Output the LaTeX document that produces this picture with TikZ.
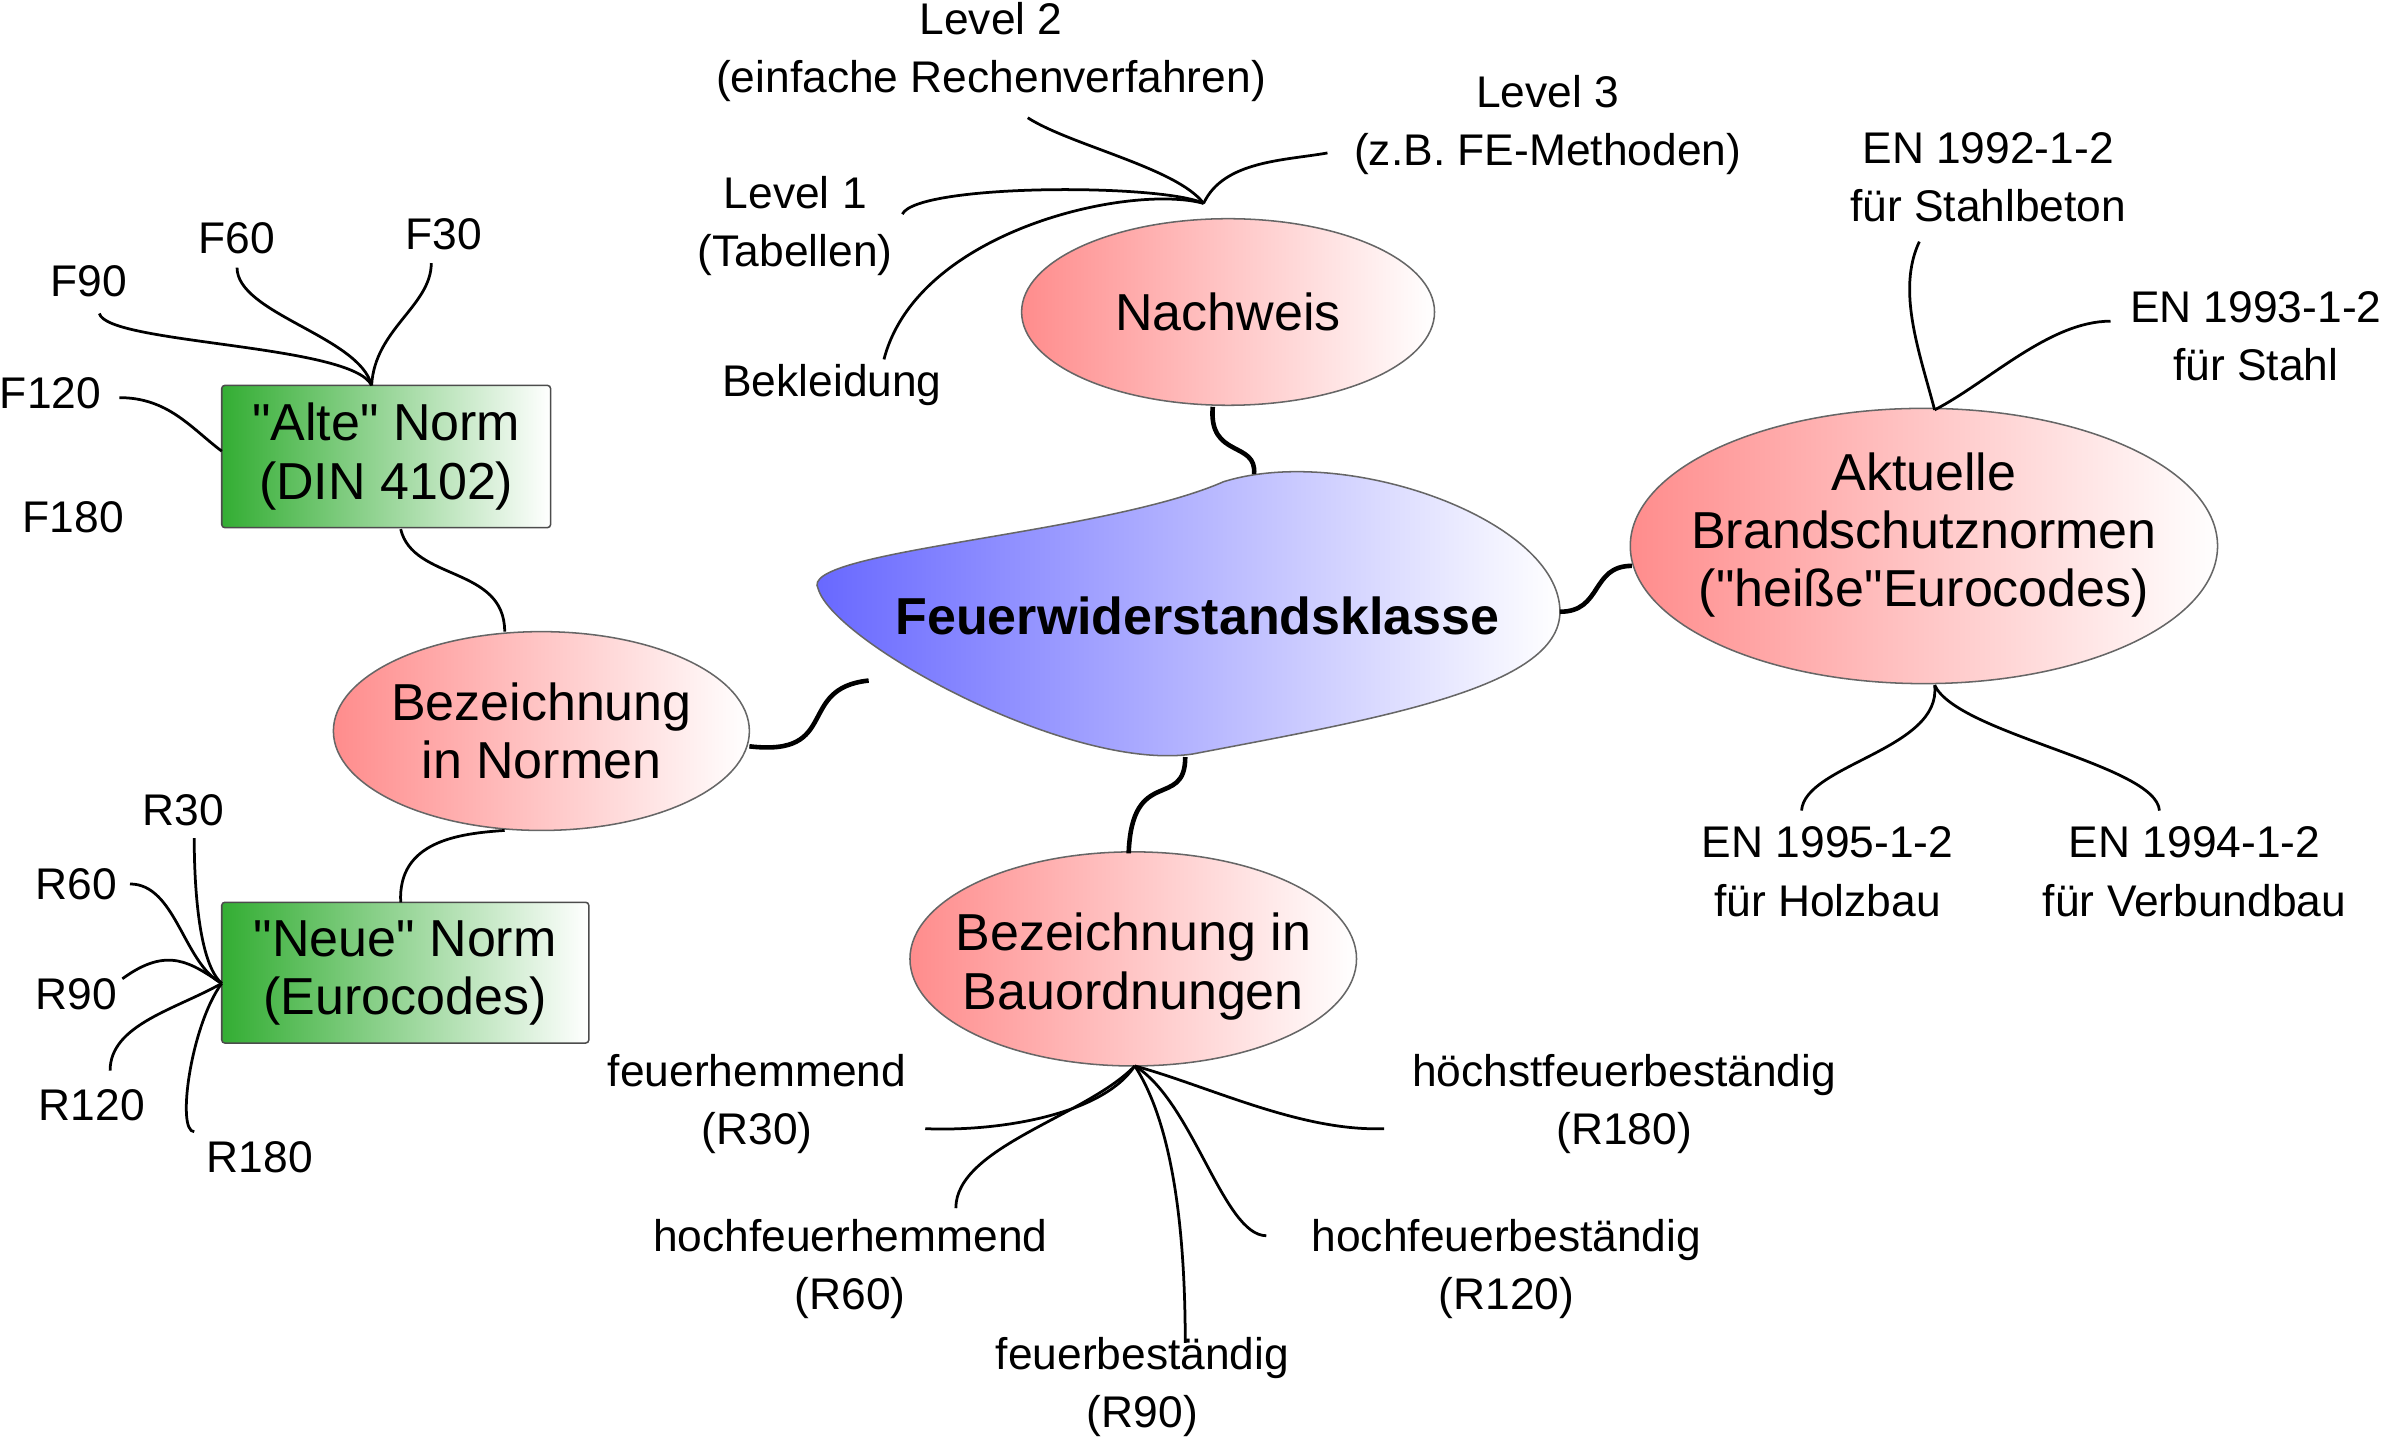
\documentclass[tikz,border=0pt]{standalone}
\usepackage{fontspec}
\setmainfont{Liberation Sans}[Ligatures=TeXOff]
\usetikzlibrary{shapes.geometric}
\begin{document}
\begin{tikzpicture}[x=1pt,y=-1pt,
  leaf/.style={font=\fontsize{29}{38}\selectfont,align=center,inner sep=0},
  big/.style={font=\fontsize{34}{38}\selectfont,align=center},
  redell/.style={draw=black!60,line width=1pt,left color=red!45,right color=white,shading angle=90},
  greenbox/.style={rectangle,rounded corners=2pt,draw=black!70,line width=1pt,left color=green!60!black!80,right color=white,inner sep=0},
  thick1/.style={line width=3pt},
  thin1/.style={line width=1.8pt}]
\useasboundingbox (0,0) rectangle (1568,948);
% central blob
\draw[line width=1pt,draw=black!60,left color={rgb,255:red,100;green,100;blue,255},right color=white,shading angle=90]
  (535,385) .. controls (520,360) and (720,350) .. (800,315)
  .. controls (880,290) and (1020,340) .. (1020,400)
  .. controls (1020,450) and (900,470) .. (780,493)
  .. controls (700,505) and (545,420) .. (535,385) -- cycle;
\node[font=\fontsize{34}{38}\selectfont\bfseries] (fw) at (783,403) {Feuerwiderstandsklasse};
% main nodes (ellipses drawn as paths, text as nodes)
\draw[redell] (803,204) ellipse [x radius=135,y radius=61];
\node[big] (nw) at (803,204) {Nachweis};
\draw[redell] (1258,357) ellipse [x radius=192,y radius=90];
\node[big] (ak) at (1258,350) {Aktuelle\\Brandschutznormen\\("heiße"Eurocodes)};
\draw[redell] (354,478) ellipse [x radius=136,y radius=65];
\node[big] (bn) at (354,478) {Bezeichnung\\in Normen};
\draw[redell] (741,627) ellipse [x radius=146,y radius=70];
\node[big] (bb) at (741,632) {Bezeichnung in\\Bauordnungen};
\node[greenbox,minimum width=215,minimum height=93,big] (alt) at (252.5,298.5) {"Alte" Norm\\(DIN 4102)};
\node[greenbox,minimum width=240,minimum height=92,big] (neu) at (265,636) {"Neue" Norm\\(Eurocodes)};
% blob connectors
\coordinate (b1) at (820,310); \coordinate (b2) at (1020,400);
\coordinate (b3) at (568,445); \coordinate (b4) at (775,495);
\coordinate (n1) at (793,266);
\draw[thick1] (n1) .. controls (790,300) and (822,288) .. (b1);
\draw[thick1] (1067,370) .. controls (1040,370) and (1048,400) .. (b2);
\draw[thick1] (490,488) .. controls (550,495) and (520,450) .. (b3);
\draw[thick1] (738,558) .. controls (740,500) and (775,530) .. (b4);
% Nachweis leaves
\coordinate (np) at (787,133);
\node[leaf] (l2) at (648,34) {Level 2\\(einfache Rechenverfahren)};
\node[leaf] (l3) at (1012,82) {Level 3\\(z.B. FE-Methoden)};
\node[leaf] (l1) at (520,148) {Level 1\\(Tabellen)};
\node[leaf] (bk) at (544,252) {Bekleidung};
\draw[thin1] (np) .. controls (770,110) and (700,95) .. (672,77);
\draw[thin1] (np) .. controls (800,105) and (840,105) .. (868,100);
\draw[thin1] (np) .. controls (760,120) and (600,120) .. (590,140);
\draw[thin1] (np) .. controls (740,120) and (600,150) .. (578,235);
% Aktuelle leaves
\coordinate (at) at (1265,268); \coordinate (ab) at (1265,448);
\node[leaf] (e92) at (1300,116) {EN 1992-1-2\\für Stahlbeton};
\node[leaf] (e93) at (1475,220) {EN 1993-1-2\\für Stahl};
\node[leaf] (e95) at (1195,570) {EN 1995-1-2\\für Holzbau};
\node[leaf] (e94) at (1435,570) {EN 1994-1-2\\für Verbundbau};
\draw[thin1] (at) .. controls (1255,230) and (1240,190) .. (1255,158);
\draw[thin1] (at) .. controls (1300,250) and (1340,210) .. (1380,210);
\draw[thin1] (ab) .. controls (1270,490) and (1180,500) .. (1178,530);
\draw[thin1] (ab) .. controls (1280,480) and (1410,500) .. (1412,530);
% Alte Norm
\coordinate (ap) at (243,252);
\node[leaf] (f30) at (290,153) {F30};
\node[leaf] (f60) at (155,156) {F60};
\node[leaf] (f90) at (58,184) {F90};
\node[leaf] (f120) at (33,257) {F120};
\node[leaf] (f180) at (48,338) {F180};
\draw[thin1] (ap) .. controls (245,215) and (282,200) .. (282,172);
\draw[thin1] (ap) .. controls (235,220) and (155,205) .. (155,175);
\draw[thin1] (ap) .. controls (230,225) and (70,225) .. (65,205);
\draw[thin1] (145,295) .. controls (125,280) and (110,260) .. (78,260);
\draw[thin1] (262,346) .. controls (270,380) and (330,370) .. (330,413);
\draw[thin1] (262,590) .. controls (260,550) and (300,545) .. (330,543);
% Neue Norm
\coordinate (rp) at (145,643);
\node[leaf] (r30) at (120,530) {R30};
\node[leaf] (r60) at (50,578) {R60};
\node[leaf] (r90) at (50,650) {R90};
\node[leaf] (r120) at (60,723) {R120};
\node[leaf] (r180) at (170,757) {R180};
\draw[thin1] (rp) .. controls (130,630) and (127,580) .. (127,548);
\draw[thin1] (rp) .. controls (120,630) and (115,578) .. (85,578);
\draw[thin1] (rp) .. controls (125,630) and (110,618) .. (80,640);
\draw[thin1] (rp) .. controls (115,660) and (72,670) .. (72,700);
\draw[thin1] (rp) .. controls (125,670) and (115,740) .. (127,740);
% Bauordnungen leaves
\coordinate (bp) at (742,697);
\node[leaf] (fh) at (495,722) {feuerhemmend\\(R30)};
\node[leaf] (hfh) at (556,830) {hochfeuerhemmend\\(R60)};
\node[leaf] (fb) at (747,907) {feuerbeständig\\(R90)};
\node[leaf] (hfb) at (985,830) {hochfeuerbeständig\\(R120)};
\node[leaf] (hsfb) at (1062,722) {höchstfeuerbeständig\\(R180)};
\draw[thin1] (bp) .. controls (720,730) and (650,740) .. (605,738);
\draw[thin1] (bp) .. controls (710,730) and (625,750) .. (625,790);
\draw[thin1] (bp) .. controls (770,740) and (775,820) .. (775,878);
\draw[thin1] (bp) .. controls (780,720) and (800,808) .. (828,808);
\draw[thin1] (bp) .. controls (790,710) and (850,740) .. (905,738);
\end{tikzpicture}
\end{document}
